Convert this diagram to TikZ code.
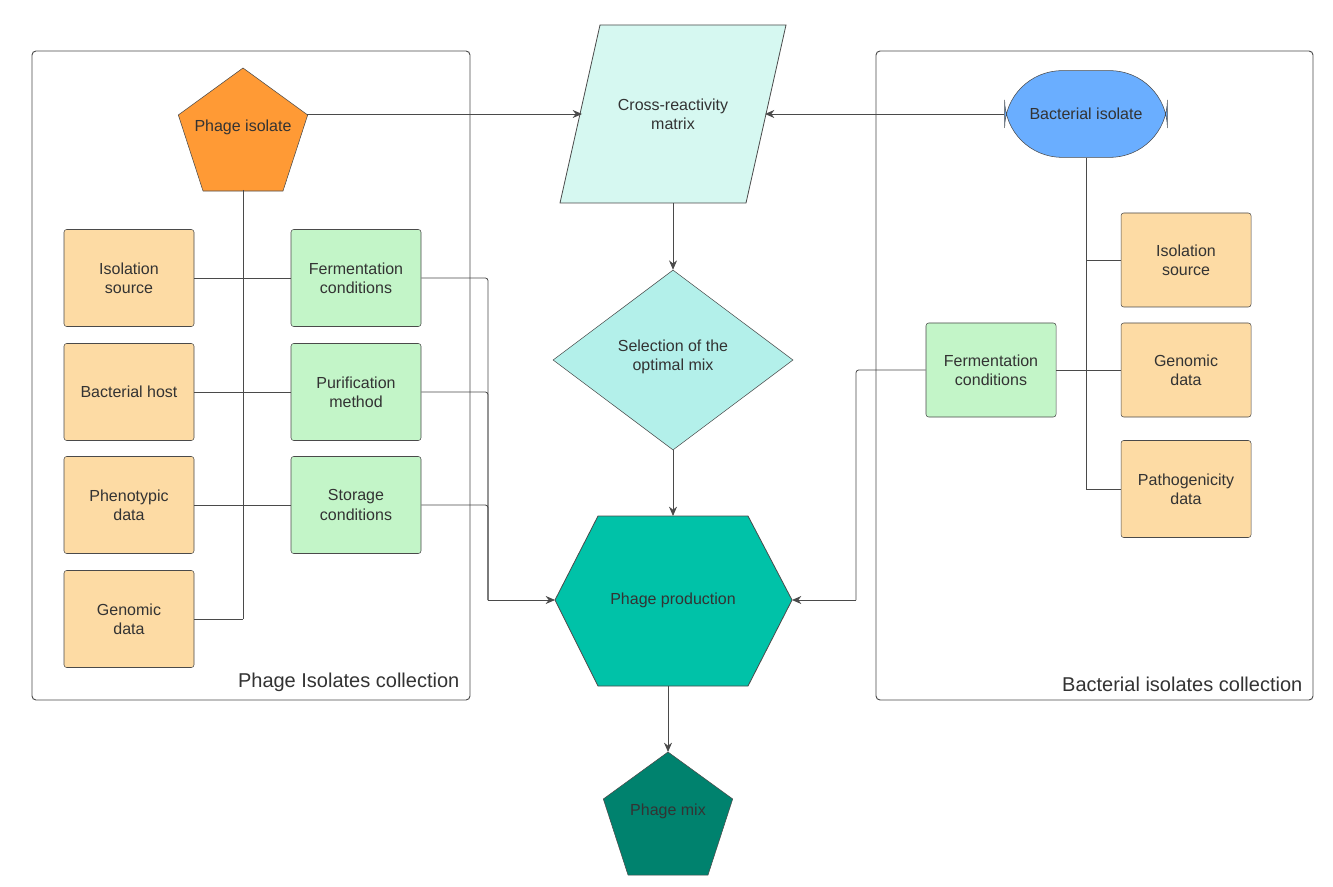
\documentclass[tikz,border=0pt]{standalone}
\usepackage{fontspec}
\setmainfont{Liberation Sans}
\usetikzlibrary{shapes.geometric,arrows.meta}
\definecolor{ln}{HTML}{4A4A4A}
\definecolor{orb}{HTML}{FDDBA4}
\definecolor{grb}{HTML}{C3F5C8}
\definecolor{orp}{HTML}{FF9A35}
\definecolor{blu}{HTML}{6AAEFF}
\definecolor{cyp}{HTML}{D6F8F1}
\definecolor{cyd}{HTML}{B3F0EA}
\definecolor{hex}{HTML}{00C2A8}
\definecolor{mix}{HTML}{00826E}
\definecolor{txt}{HTML}{333333}
\begin{document}
\begin{tikzpicture}[x=0.75pt,y=-0.75pt,
  every node/.style={font=\fontsize{12}{14.5}\selectfont,text=txt,align=center},
  box/.style={draw=ln,rounded corners=2pt,minimum width=97.5pt,minimum height=72.75pt,inner sep=0},
  obox/.style={box,fill=orb},
  gbox/.style={box,fill=grb},
  pent/.style={regular polygon,regular polygon sides=5,minimum size=102pt,inner sep=0,draw=ln},
  con/.style={draw=ln,line width=0.6pt},
  arr/.style={con,-{Stealth[length=7pt,width=6pt]}},
  cont/.style={draw=ln,rounded corners=3pt,line width=0.7pt},
  clab/.style={font=\fontsize{15}{18}\selectfont,anchor=south east}]
\useasboundingbox (0,0) rectangle (1333,887);
\fill[white] (0,0) rectangle (1333,887);
% containers
\draw[cont] (32,51) rectangle (470,700);
\node[clab] (lc) at (464,696) {Phage Isolates collection};
\draw[cont] (876,51) rectangle (1313,700);
\node[clab] (rc) at (1307,696) {Bacterial isolates collection};
% left side
\node[pent,fill=orp] (pi) at (243,136) {};
\node at (243,127) {Phage isolate};
\coordinate (pib) at (243,190);
\coordinate (pir) at (307,114);
\node[obox] (o1) at (129,278) {Isolation\\source};
\node[obox] (o2) at (129,392) {Bacterial host};
\node[obox] (o3) at (129,505) {Phenotypic\\data};
\node[obox] (o4) at (129,619) {Genomic\\data};
\node[gbox] (g1) at (356,278) {Fermentation\\conditions};
\node[gbox] (g2) at (356,392) {Purification\\method};
\node[gbox] (g3) at (356,505) {Storage\\conditions};
\coordinate (vb) at (243,619);
\draw[con] (pib) -- (vb);
\foreach \n in {o1,o2,o3,o4} \draw[con] (\n.east) -- (\n.east -| vb);
\foreach \n in {g1,g2,g3} \draw[con] (\n.west) -- (\n.west -| vb);
% center
\coordinate (pa1) at (600,25); \coordinate (pa2) at (786,25);
\coordinate (pa3) at (746,203); \coordinate (pa4) at (560,203);
\draw[draw=ln,fill=cyp,line width=0.6pt] (pa1) -- (pa2) -- (pa3) -- (pa4) -- cycle;
\node (cr) at (673,114) {Cross-reactivity\\matrix};
\coordinate (crl) at (582,114); \coordinate (crr) at (765,114);
\coordinate (crb) at (673,203);
\node[diamond,draw=ln,fill=cyd,minimum width=180pt,minimum height=135pt,inner sep=0] (di) at (673,360) {};
\node at (673,357) {Selection of the\\optimal mix};
\coordinate (h1) at (598,516); \coordinate (h2) at (748,516); \coordinate (h3) at (792,600);
\coordinate (h4) at (748,686); \coordinate (h5) at (598,686); \coordinate (h6) at (555,600);
\draw[draw=ln,fill=hex,line width=0.6pt] (h1) -- (h2) -- (h3) -- (h4) -- (h5) -- (h6) -- cycle;
\node (pp) at (673,600) {Phage production};
\coordinate (ht) at (673,516); \coordinate (hb) at (668,686);
\node[pent,fill=mix] (pm) at (668,820) {};
\node at (668,811) {Phage mix};
\coordinate (pmt) at (668,752);
\draw[arr] (pir) -- (crl);
\draw[arr] (crb) -- (di.north);
\draw[arr] (di.south) -- (ht);
\draw[arr] (hb) -- (pmt);
\coordinate (bx) at (488,0);
\foreach \n in {g1,g2,g3} \draw[con,rounded corners=2pt] (\n.east) -- (\n.east -| bx) -- (bx |- h6);
\draw[arr] (bx |- h6) -- (h6);
% right side
\node[draw=ln,fill=blu,rounded corners=43pt,minimum width=122pt,minimum height=65pt,inner sep=0] (bi) at (1086,114) {Bacterial isolate};
\draw[arr] (bi.west) -- (crr);
\node[obox,minimum height=70.5pt] (r1) at (1186,260) {Isolation\\source};
\node[obox,minimum height=70.5pt] (r2) at (1186,370) {Genomic\\data};
\node[obox,minimum height=72.75pt] (r3) at (1186,489) {Pathogenicity\\data};
\node[gbox,minimum height=70.5pt] (rg) at (991,370) {Fermentation\\conditions};
\coordinate (rv) at (1086,489);
\draw[con] (bi.south) -- (rv);
\foreach \n in {r1,r2,r3} \draw[con] (\n.west) -- (\n.west -| rv);
\draw[con] (rg.east) -- (rg.east -| rv);
\coordinate (rx) at (856,0);
\draw[con,rounded corners=2pt] (rg.west) -- (rg.west -| rx) -- (rx |- h3);
\draw[arr] (rx |- h3) -- (h3);
\end{tikzpicture}
\end{document}
